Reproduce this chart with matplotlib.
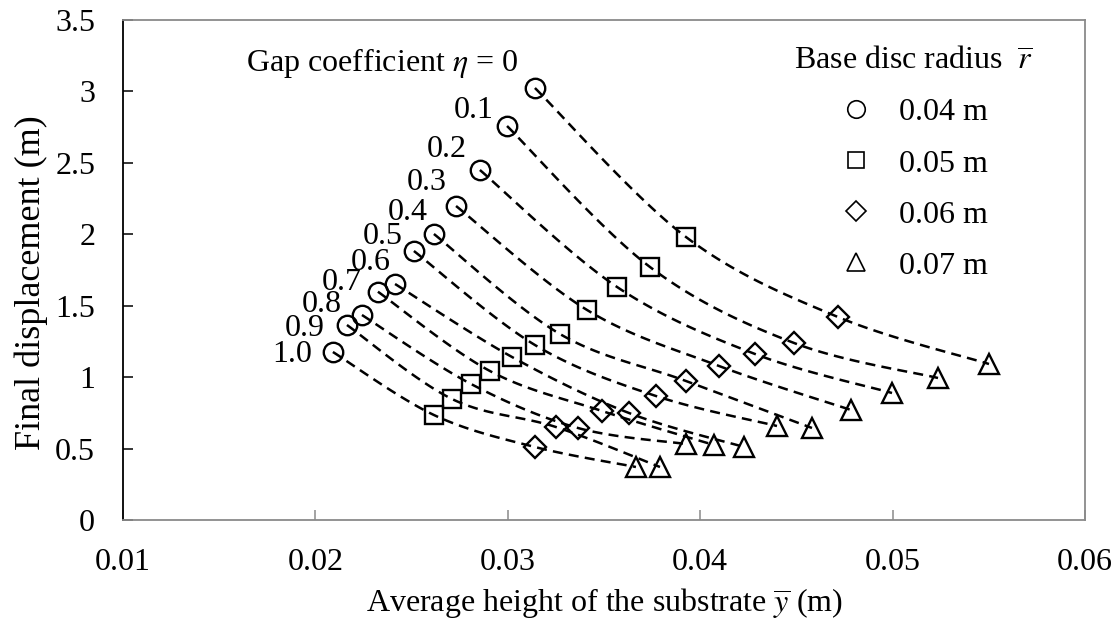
import numpy as np
import matplotlib
matplotlib.use("Agg")
import matplotlib.pyplot as plt
from matplotlib.lines import Line2D

# ---------------- data ----------------
eta_labels = ["0", "0.1", "0.2", "0.3", "0.4", "0.5", "0.6", "0.7", "0.8", "0.9", "1.0"]
radius_labels = ["0.04 m", "0.05 m", "0.06 m", "0.07 m"]

# average substrate height (m) and final displacement (m), one entry per eta
ybar_r004 = [0.03141, 0.02996, 0.02855, 0.02731, 0.02616, 0.02512, 0.02414, 0.02325, 0.02242, 0.02164, 0.02091]
disp_r004 = [3.024, 2.758, 2.450, 2.198, 2.002, 1.883, 1.652, 1.598, 1.435, 1.365, 1.176]
ybar_r005 = [0.03926, 0.03739, 0.03568, 0.03412, 0.03271, 0.03141, 0.03022, 0.02907, 0.02809, 0.02710, 0.02616]
disp_r005 = [1.981, 1.771, 1.631, 1.470, 1.302, 1.225, 1.141, 1.043, 0.952, 0.847, 0.735]
ybar_r006 = [0.04716, 0.04488, 0.04285, 0.04098, 0.03926, 0.03770, 0.03630, 0.03490, 0.03365, 0.03250, 0.03141]
disp_r006 = [1.421, 1.239, 1.162, 1.078, 0.973, 0.868, 0.749, 0.763, 0.644, 0.651, 0.511]
ybar_r007 = [0.05501, 0.05236, 0.04997, 0.04784, 0.04581, 0.04399, 0.04228, 0.04072, 0.03926, 0.03791, 0.03666]
disp_r007 = [1.092, 0.994, 0.889, 0.770, 0.644, 0.658, 0.511, 0.525, 0.532, 0.371, 0.371]

x_ticks = [0.01, 0.02, 0.03, 0.04, 0.05, 0.06]
x_tick_labels = ["0.01", "0.02", "0.03", "0.04", "0.05", "0.06"]
y_ticks = [0, 0.5, 1, 1.5, 2, 2.5, 3, 3.5]
y_tick_labels = ["0", "0.5", "1", "1.5", "2", "2.5", "3", "3.5"]

# ---------------- style ----------------
plt.rcParams["font.family"] = ["Liberation Serif", "DejaVu Serif"]
plt.rcParams["mathtext.fontset"] = "stix"
FS = 23
GREY = "#8a8a8a"

W, H, DPI = 1119, 630, 100
fig = plt.figure(figsize=(W / DPI, H / DPI), dpi=DPI)
ax = fig.add_axes([123 / W, 1 - 520 / H, (1085 - 123) / W, (520 - 20) / H])
ax.set_xlim(0.01, 0.06)
ax.set_ylim(0, 3.5)

xs = np.array([ybar_r004, ybar_r005, ybar_r006, ybar_r007]).T
ys = np.array([disp_r004, disp_r005, disp_r006, disp_r007]).T


def smooth(px, py, n=30):
    """Catmull-Rom style smoothing (Excel-like) in display space."""
    pts = ax.transData.transform(np.column_stack([px, py]))
    out = []
    m = len(pts)
    for i in range(m - 1):
        p0 = pts[max(i - 1, 0)]
        p1 = pts[i]
        p2 = pts[i + 1]
        p3 = pts[min(i + 2, m - 1)]
        c1 = p1 + (p2 - p0) / 6.0
        c2 = p2 - (p3 - p1) / 6.0
        t = np.linspace(0, 1, n)[:, None]
        seg = ((1 - t) ** 3) * p1 + 3 * ((1 - t) ** 2) * t * c1 + 3 * (1 - t) * t ** 2 * c2 + t ** 3 * p2
        out.append(seg if i == 0 else seg[1:])
    seg = np.vstack(out)
    return ax.transData.inverted().transform(seg).T


for k in range(len(eta_labels)):
    sx, sy = smooth(xs[k], ys[k])
    ax.plot(sx, sy, color="black", lw=1.8, ls=(0, (4, 2.5)), zorder=2)

marker_specs = [("o", 14.0), ("s", 13.2), ("D", 11.0), ("^", 15.0)]
for j, (mk, ms) in enumerate(marker_specs):
    ax.plot(xs[:, j], ys[:, j], ls="none", marker=mk, ms=ms, mfc="none",
            mec="black", mew=1.7, zorder=3)

# eta labels next to the r = 0.04 m points
label_offsets = [(-153, 25), (-33, 16), (-33, 20), (-29, 23), (-26, 22), (-31, 15),
                 (-24, 22), (-36, 9), (-40, 10), (-42, -3), (-41, -2)]
for k, lab in enumerate(eta_labels):
    txt = r"Gap coefficient $\eta$ = 0" if k == 0 else lab
    ax.annotate(txt, xy=(xs[k, 0], ys[k, 0]), xytext=label_offsets[k],
                textcoords="offset pixels", ha="center", va="center", fontsize=FS)

# axes styling
ax.set_xticks(x_ticks)
ax.set_xticklabels(x_tick_labels)
ax.set_yticks(y_ticks)
ax.set_yticklabels(y_tick_labels)
ax.tick_params(axis="y", direction="in", length=7, width=1.1, color="black",
               labelsize=FS, pad=20)
ax.tick_params(axis="x", direction="in", length=7, width=1.1, color=GREY,
               labelsize=FS, pad=20)
ax.spines["left"].set_color("black")
ax.spines["left"].set_linewidth(1.3)
for s in ("top", "right", "bottom"):
    ax.spines[s].set_color(GREY)
    ax.spines[s].set_linewidth(1.3)

ax.set_xlabel(r"Average height of the substrate $\overline{y}$ (m)", fontsize=FS, labelpad=7)
ax.set_ylabel("Final displacement (m)", fontsize=26, labelpad=5)
ax.yaxis.set_label_coords(-0.078, 0.474)

handles = [Line2D([], [], ls="none", marker=mk, ms=ms * 0.9, mfc="none", mec="black", mew=1.2)
           for mk, ms in marker_specs]
leg = ax.legend(handles, radius_labels, title=r"Base disc radius  $\overline{r}$",
                frameon=False, fontsize=FS, title_fontsize=FS,
                loc="center", bbox_to_anchor=(914 / W, 1 - 164 / H),
                bbox_transform=fig.transFigure,
                handlelength=1.0, handletextpad=0.85, labelspacing=0.68,
                borderpad=0.2)

fig.savefig("out.png", dpi=DPI)
